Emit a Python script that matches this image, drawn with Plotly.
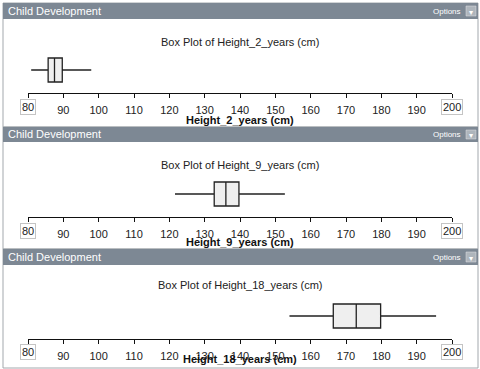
import plotly.graph_objects as go

W, H = 480, 369

variables = ["Height_2_years", "Height_9_years", "Height_18_years"]
lower_whisker = [80.9, 121.6, 154.0]
q1_values = [85.7, 132.7, 166.4]
median_values = [87.5, 136.0, 172.9]
q3_values = [89.7, 139.7, 179.8]
upper_whisker = [97.9, 152.7, 195.5]
tick_values = [80, 90, 100, 110, 120, 130, 140, 150, 160, 170, 180, 190, 200]
panel_header = "Child Development"

FONT = "Arial, Liberation Sans"


def py(y):
    return 1 - y / H


def px(x):
    return x / W


# panel geometry in pixels
panels = [
    dict(top=3, hdr_bot=19, bottom=127, axis=93, title=42, ticklab=107, xtitle=120),
    dict(top=127, hdr_bot=142, bottom=249, axis=217, title=165, ticklab=231, xtitle=242),
    dict(top=249, hdr_bot=265, bottom=368, axis=339, title=285, ticklab=352, xtitle=359),
]

HDR = "#7d8894"
fig = go.Figure()
shapes = []
annotations = []

for i, p in enumerate(panels):
    n = "" if i == 0 else str(i + 1)
    dom_h = 46
    fig.add_trace(go.Box(
        y=[0],
        q1=[q1_values[i]], median=[median_values[i]], q3=[q3_values[i]],
        lowerfence=[lower_whisker[i]], upperfence=[upper_whisker[i]],
        orientation="h", width=24 / dom_h * 2,
        fillcolor="#efefef", line=dict(color="#222222", width=1.3),
        whiskerwidth=0, boxpoints=False, showlegend=False, hoverinfo="skip",
        xaxis="x" + n, yaxis="y" + n,
    ))
    fig.update_layout(**{
        "xaxis" + n: dict(
            domain=[px(28), px(452)], range=[80, 200], anchor="y" + n,
            tickvals=tick_values,
            ticktext=["" if v in (tick_values[0], tick_values[-1]) else str(v) for v in tick_values],
            showline=True, linecolor="#111111", linewidth=1.3,
            ticks="outside", ticklen=4, tickcolor="#111111", tickwidth=1,
            ticklabelstandoff=3,
            showgrid=False, zeroline=False,
            tickfont=dict(family=FONT, size=11, color="#222222"),
            fixedrange=True,
        ),
        "yaxis" + n: dict(
            domain=[py(p["axis"]), py(p["axis"] - dom_h)], range=[-1, 1], anchor="x" + n,
            visible=False, fixedrange=True,
        ),
    })
    # panel border
    shapes.append(dict(type="rect", xref="paper", yref="paper",
                       x0=px(3), x1=px(478), y0=py(p["bottom"]), y1=py(p["top"]),
                       line=dict(color="#a3a8ad", width=1), fillcolor="rgba(0,0,0,0)", layer="below"))
    # header bar
    shapes.append(dict(type="rect", xref="paper", yref="paper",
                       x0=px(3), x1=px(478), y0=py(p["hdr_bot"]), y1=py(p["top"]),
                       line=dict(width=0), fillcolor=HDR, layer="below"))
    # options dropdown box
    shapes.append(dict(type="rect", xref="paper", yref="paper",
                       x0=px(466), x1=px(476), y0=py(p["hdr_bot"] - 3), y1=py(p["top"] + 3),
                       line=dict(color="#e0e3e6", width=0.5), fillcolor="#aeb5bc", layer="above"))
    mid = (p["top"] + p["hdr_bot"]) / 2
    annotations.append(dict(text="\u25BE", x=px(471), y=py(mid), xref="paper", yref="paper",
                            showarrow=False, font=dict(size=8, color="white"),
                            xanchor="center", yanchor="middle"))
    annotations.append(dict(text=panel_header, x=px(6), y=py(mid), xref="paper", yref="paper",
                            showarrow=False, xanchor="left", yanchor="middle",
                            font=dict(family=FONT, size=11, color="white")))
    annotations.append(dict(text="Options", x=px(463), y=py(mid), xref="paper", yref="paper",
                            showarrow=False, xanchor="right", yanchor="middle",
                            font=dict(family=FONT, size=8, color="white")))
    # chart title
    annotations.append(dict(text="Box Plot of " + variables[i] + " (cm)", x=px(240), y=py(p["title"]),
                            xref="paper", yref="paper", showarrow=False,
                            xanchor="center", yanchor="middle",
                            font=dict(family=FONT, size=11, color="#222222")))
    # axis title
    annotations.append(dict(text="<b>" + variables[i] + " (cm)</b>", x=px(240), y=py(p["xtitle"]),
                            xref="paper", yref="paper", showarrow=False,
                            xanchor="center", yanchor="middle",
                            font=dict(family=FONT, size=11, color="#111111")))
    # boxed end labels
    for v in (tick_values[0], tick_values[-1]):
        annotations.append(dict(text=str(v), x=v, y=py(p["ticklab"]), xref="x" + n, yref="paper",
                                showarrow=False, xanchor="center", yanchor="middle",
                                bordercolor="#c4c4c4", borderwidth=1, borderpad=1, bgcolor="white",
                                font=dict(family=FONT, size=11, color="#222222")))

fig.update_layout(
    width=W, height=H, margin=dict(l=0, r=0, t=0, b=0),
    paper_bgcolor="white", plot_bgcolor="white",
    shapes=shapes, annotations=annotations,
)

fig.write_html("out.html", config={"displayModeBar": False},
               post_script="document.body.style.margin='0';document.body.style.overflow='hidden';")
